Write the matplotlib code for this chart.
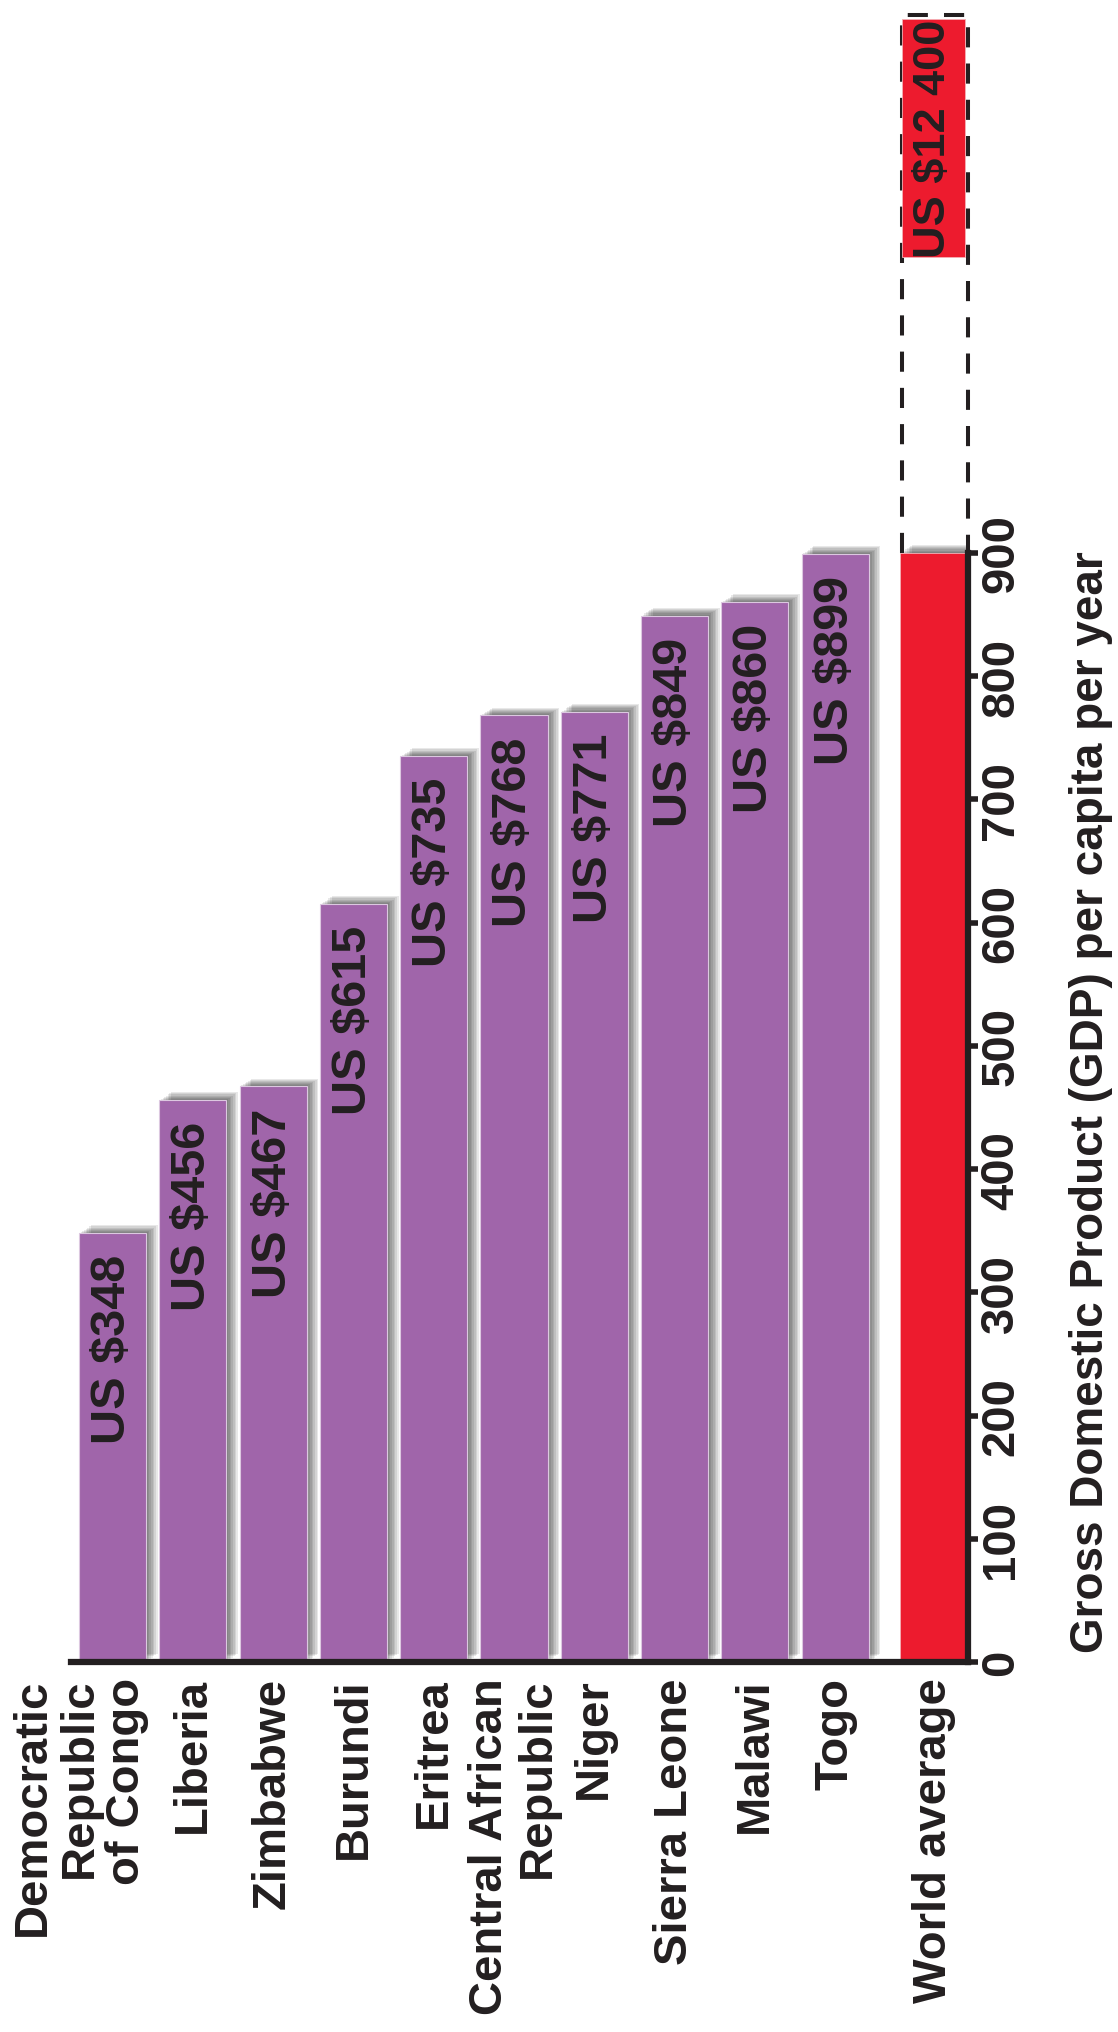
import numpy as np
import matplotlib.pyplot as plt
import matplotlib.patheffects as pe

plt.rcParams['font.family'] = ['Liberation Sans', 'DejaVu Sans']
plt.rcParams['font.weight'] = 'bold'

countries = ["Democratic\nRepublic\nof Congo", "Liberia", "Zimbabwe", "Burundi",
             "Eritrea", "Central African\nRepublic", "Niger", "Sierra Leone",
             "Malawi", "Togo"]
gdp = [348, 456, 467, 615, 735, 768, 771, 849, 860, 899]
world_label = "World average"
world_gdp = 12400
yticks = [0, 100, 200, 300, 400, 500, 600, 700, 800, 900]
axis_label = "Gross Domestic Product (GDP) per capita per year"

purple = '#A065AA'
red = '#ED1B2E'
ink = '#231F20'

axis_top = 900          # axis is broken above this value
ymax = 1342
break_top = 1336        # top of dashed box
box_bottom, box_top = 1140, 1333

fig = plt.figure(figsize=(11.18, 20.33), dpi=100)
ax = fig.add_axes([71 / 1118, 1 - 1663 / 2033, 897 / 1118, 1654 / 2033])

shadow = [pe.SimplePatchShadow(offset=(d * 1.2, d * 0.8), shadow_rgbFace='black', alpha=0.09)
          for d in range(1, 8)] + [pe.Normal()]

x = np.arange(len(countries))
bw = 0.835
world_x = len(countries) + 0.23
xmax = world_x + 0.424

ax.bar(x, gdp, width=bw, color=purple, edgecolor='#dcc8e0', linewidth=0.8,
       path_effects=shadow, zorder=2)
ax.bar(world_x, min(world_gdp, axis_top), width=bw, color=red, edgecolor='#f4b0b6',
       linewidth=0.6, path_effects=shadow, zorder=2)

# broken part of the world average bar
xl = world_x - 0.40
ax.plot([xl, xl, xmax, xmax], [axis_top, break_top, break_top, axis_top], color=ink,
        lw=2.9, ls=(0, (5, 4)), clip_on=False, zorder=3)
ax.bar(world_x, box_top - box_bottom, bottom=box_bottom, width=bw - 0.05, color=red,
       edgecolor='#f4b0b6', linewidth=0.6, zorder=4)
ax.text(world_x, (box_top + box_bottom) / 2, "US $" + f"{world_gdp:,}".replace(",", " "),
        rotation=90, ha='center', va='center', fontsize=32.5, color=ink, zorder=5)

for xi, v in zip(x, gdp):
    ax.annotate(f"US ${v}", xy=(xi, v), xytext=(0, -15), textcoords='offset points',
                rotation=90, ha='center', va='top', fontsize=35, color=ink, zorder=4)

# category labels under the baseline
for i, name in enumerate(countries + [world_label]):
    xi = world_x if i == len(countries) else i
    dx = -23.4 if i == 0 else 0
    ax.annotate(name, xy=(xi, 0), xytext=(dx, -11), textcoords='offset points',
                rotation=90, ha='center', va='top', multialignment='right',
                fontsize=34, color=ink, linespacing=1.1, annotation_clip=False)

ax.set_xlim(-0.517, xmax)
ax.set_ylim(0, ymax)
ax.set_xticks([])
ax.set_yticks(yticks)
ax.yaxis.tick_right()
ax.tick_params(axis='y', length=7, width=4, pad=1, labelsize=34, labelrotation=90,
               colors=ink)
plt.setp(ax.get_yticklabels(), va='center')

for s in ['top', 'left']:
    ax.spines[s].set_visible(False)
for s in ['right', 'bottom']:
    ax.spines[s].set_linewidth(4.5)
    ax.spines[s].set_color(ink)
    ax.spines[s].set_zorder(5)
ax.spines['right'].set_bounds(0, axis_top)

ax.yaxis.set_label_position('right')
ax.set_ylabel(axis_label, fontsize=33, fontweight='bold', color=ink, rotation=90)
ax.yaxis.label.set_va('center')
ax.yaxis.set_label_coords(1.137, 455 / ymax)

fig.savefig('out.png', dpi=100)
